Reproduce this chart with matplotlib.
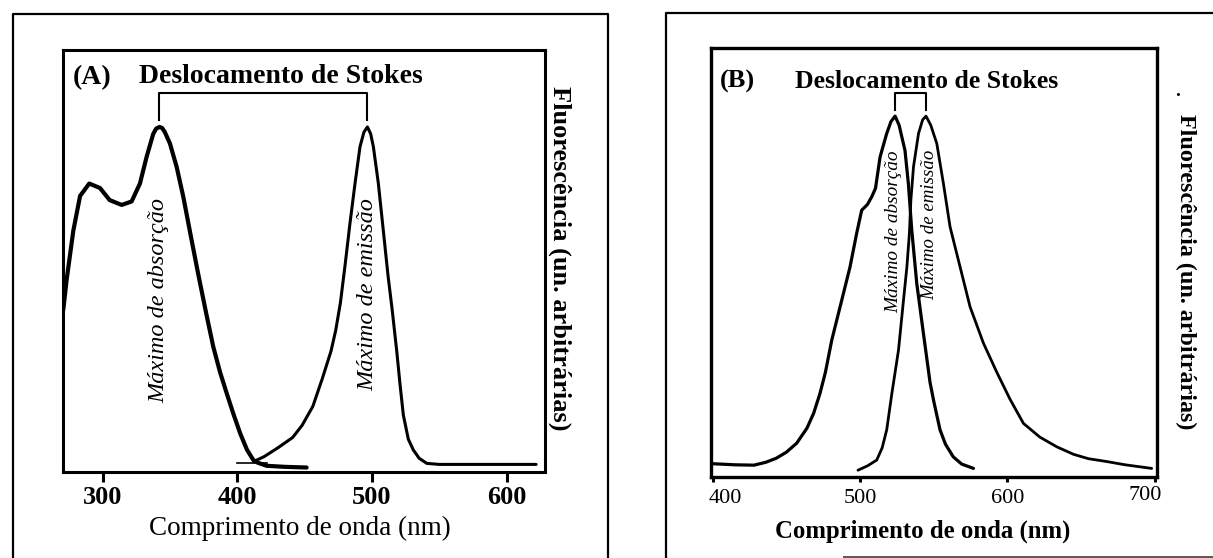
import matplotlib
matplotlib.use("Agg")
import matplotlib.pyplot as plt
from matplotlib.lines import Line2D
import matplotlib.transforms as mtransforms

plt.rcParams['font.family'] = ['Liberation Serif', 'DejaVu Serif']

# ---------------- data: panel A ----------------
abs_A_nm = [270.5, 273, 278, 283, 289.8, 297.8, 305, 313.9, 321.3, 327.5, 332.5, 337.4, 339.5,
            342, 344, 346, 349.8, 354.8, 359.7, 365.9, 371, 377, 382, 387, 392, 397, 402, 407,
            411.7, 415, 421.7, 435, 451.4]
abs_A = [0.47, 0.557, 0.70, 0.80, 0.836, 0.823, 0.788, 0.774, 0.784, 0.836, 0.914, 0.98, 0.995,
         1.0, 0.997, 0.985, 0.952, 0.884, 0.798, 0.672, 0.57, 0.455, 0.363, 0.29, 0.228, 0.168,
         0.112, 0.065, 0.035, 0.027, 0.018, 0.015, 0.013]

em_A_nm = [412, 420, 430, 441, 448, 456, 463, 469.5, 473, 476.5, 480, 483.6, 487.4, 491.1, 494,
           496.6, 499, 501, 504.7, 508.4, 512, 515, 518.4, 520.8, 523.3, 527, 530.7, 535, 540.7,
           550, 580, 622]
em_A = [0.03, 0.045, 0.07, 0.10, 0.135, 0.19, 0.27, 0.35, 0.41, 0.49, 0.60, 0.72, 0.837, 0.943,
        0.985, 1.0, 0.98, 0.943, 0.837, 0.70, 0.566, 0.47, 0.35, 0.255, 0.165, 0.095, 0.064, 0.04,
        0.025, 0.022, 0.022, 0.022]

base_A_nm = [399.4, 421.7]
base_A = [0.027, 0.027]

ticks_A = [300, 400, 500, 600]
stokes_A = [341.9, 496.6]

# ---------------- data: panel B ----------------
abs_B_nm = [400, 415, 428, 436, 443, 450, 457, 464, 468.5, 472.8, 476.5, 480.8, 487.6, 493.2,
            497.7, 501.1, 505, 507.9, 510.5, 513.6, 518.1, 521, 523.8, 526.5, 530.5, 532.8, 535.1,
            538.5, 543, 547.5, 550, 554.3, 558, 563.3, 569, 577]
abs_B = [0.036, 0.033, 0.032, 0.040, 0.051, 0.068, 0.093, 0.135, 0.176, 0.231, 0.29, 0.379, 0.49,
         0.582, 0.675, 0.739, 0.755, 0.776, 0.80, 0.887, 0.952, 0.985, 1.0, 0.975, 0.905, 0.813,
         0.684, 0.536, 0.398, 0.262, 0.21, 0.13, 0.09, 0.055, 0.035, 0.023]

em_B_nm = [498.6, 505, 511.3, 515, 518.1, 521.6, 526.1, 529.5, 531.8, 533.5, 534.5, 536.3, 539.7,
           542.5, 544.8, 548, 552.1, 556.6, 561.1, 567.9, 574.7, 583.8, 592.8, 601.8, 610.9, 622,
           633.5, 645, 655, 667.5, 680, 698]
em_B = [0.018, 0.03, 0.046, 0.08, 0.13, 0.231, 0.351, 0.49, 0.582, 0.675, 0.767, 0.86, 0.952,
        0.99, 1.0, 0.975, 0.924, 0.813, 0.693, 0.582, 0.471, 0.37, 0.29, 0.215, 0.148, 0.11,
        0.083, 0.062, 0.05, 0.042, 0.033, 0.023]

ticks_B = [400, 500, 600, 700]
stokes_B = [523.8, 544.8]

# ---------------- texts ----------------
title_stokes = "Deslocamento de Stokes"
lbl_abs = "Máximo de absorção"
lbl_em = "Máximo de emissão"
xlabel = "Comprimento de onda (nm)"
ylabel = "Fluorescência (un. arbitrárias)"

W, H = 1213, 558
fig = plt.figure(figsize=(W / 100, H / 100), dpi=100)
fig.patch.set_facecolor('white')


def fx(px):
    return px / W


def fy(py):
    return 1 - py / H


# outer frames
def fline(xs, ys, lw=1.6, color='black'):
    fig.add_artist(Line2D([fx(x) for x in xs], [fy(y) for y in ys], lw=lw, color=color,
                          transform=fig.transFigure, solid_capstyle='butt'))


fline([13, 13, 608.3, 608.3], [560, 14, 14, 560])
fline([666, 666, 1215], [560, 13.3, 13.3])
fline([843, 1215], [556.7, 556.7], lw=1.4, color='0.35')

# ---------------- panel A ----------------
axA = fig.add_axes([fx(63), fy(472), (545 - 63) / W, (472 - 50) / H])
axA.plot(abs_A_nm, abs_A, color='black', lw=3.0, solid_joinstyle='round', solid_capstyle='round')
axA.plot(em_A_nm, em_A, color='black', lw=2.2, solid_joinstyle='round', solid_capstyle='round')
axA.plot(base_A_nm, base_A, color='black', lw=1.2)
axA.set_xlim(270.3, 628.6)
axA.set_ylim(0, 1.223)
for s in axA.spines.values():
    s.set_linewidth(2.2)
axA.set_yticks([])
axA.set_xticks(ticks_A)
axA.set_xticklabels([])
axA.tick_params(axis='x', direction='out', length=7.2, width=2.2)
trA = mtransforms.blended_transform_factory(axA.transData, axA.transAxes)
for t in ticks_A:
    axA.text(t, (472 - 504) / 422, str(t), transform=trA, ha='center', va='baseline',
             fontsize=19, fontweight='bold')

axA.plot([stokes_A[0], stokes_A[0], stokes_A[1], stokes_A[1]], [1.02, 1.099, 1.099, 1.02],
         color='black', lw=1.5)
axA.text(292.2, 1.142, "(A)", ha='center', va='center', fontsize=20, fontweight='bold')
axA.text(431.9, 1.146, title_stokes, ha='center', va='center', fontsize=20, fontweight='bold')
axA.text(341.3, 0.497, lbl_abs, rotation=90, ha='center', va='center', fontsize=17.5,
         style='italic')
axA.text(496.7, 0.513, lbl_em, rotation=90, ha='center', va='center', fontsize=17.5,
         style='italic')

fig.text(fx(299.6), fy(535), xlabel, ha='center', va='baseline', fontsize=19.5)
fig.text(fx(560), fy(258), ylabel, rotation=270, ha='center', va='center', fontsize=19,
         fontweight='bold')

# ---------------- panel B ----------------
axB = fig.add_axes([fx(710.7), fy(476.7), (1156.7 - 710.7) / W, (476.7 - 48) / H])
axB.plot(abs_B_nm, abs_B, color='black', lw=2.3, solid_joinstyle='round', solid_capstyle='round')
axB.plot(em_B_nm, em_B, color='black', lw=2.0, solid_joinstyle='round', solid_capstyle='round')
axB.set_xlim(398.6, 701.4)
axB.set_ylim(0, 1.189)
for s in axB.spines.values():
    s.set_linewidth(2.4)
axB.set_yticks([])
axB.set_xticks(ticks_B)
axB.set_xticklabels([])
axB.tick_params(axis='x', direction='out', length=3.6, width=2.2)
trB = mtransforms.blended_transform_factory(axB.transData, axB.transAxes)
tick_shift_B = {400: 8.4, 500: 0.0, 600: 0.0, 700: -6.5}
tick_base_B = {400: 503, 500: 503, 600: 503, 700: 500}
for t in ticks_B:
    axB.text(t + tick_shift_B[t], (476.7 - tick_base_B[t]) / 428.7, str(t), transform=trB,
             ha='center', va='baseline', fontsize=16)

axB.plot([stokes_B[0], stokes_B[0], stokes_B[1], stokes_B[1]], [1.017, 1.063, 1.063, 1.017],
         color='black', lw=1.5)
axB.text(416.8, 1.095, "(B)", ha='center', va='center', fontsize=19, fontweight='bold')
axB.text(545.1, 1.097, title_stokes, ha='center', va='center', fontsize=18.5, fontweight='bold')
axB.text(522.6, 0.679, lbl_abs, rotation=90, ha='center', va='center', fontsize=13.9,
         style='italic')
axB.text(547.5, 0.698, lbl_em, rotation=90, ha='center', va='center', fontsize=13.6,
         style='italic')

fig.text(fx(922.5), fy(538), xlabel, ha='center', va='baseline', fontsize=17.8,
         fontweight='bold')
fig.text(fx(1186), fy(272), ylabel, rotation=270, ha='center', va='center', fontsize=17.4,
         fontweight='bold')
fig.text(fx(1178), fy(91), ".", ha='center', va='center', fontsize=14, fontweight='bold')

fig.savefig("out.png", dpi=100)
